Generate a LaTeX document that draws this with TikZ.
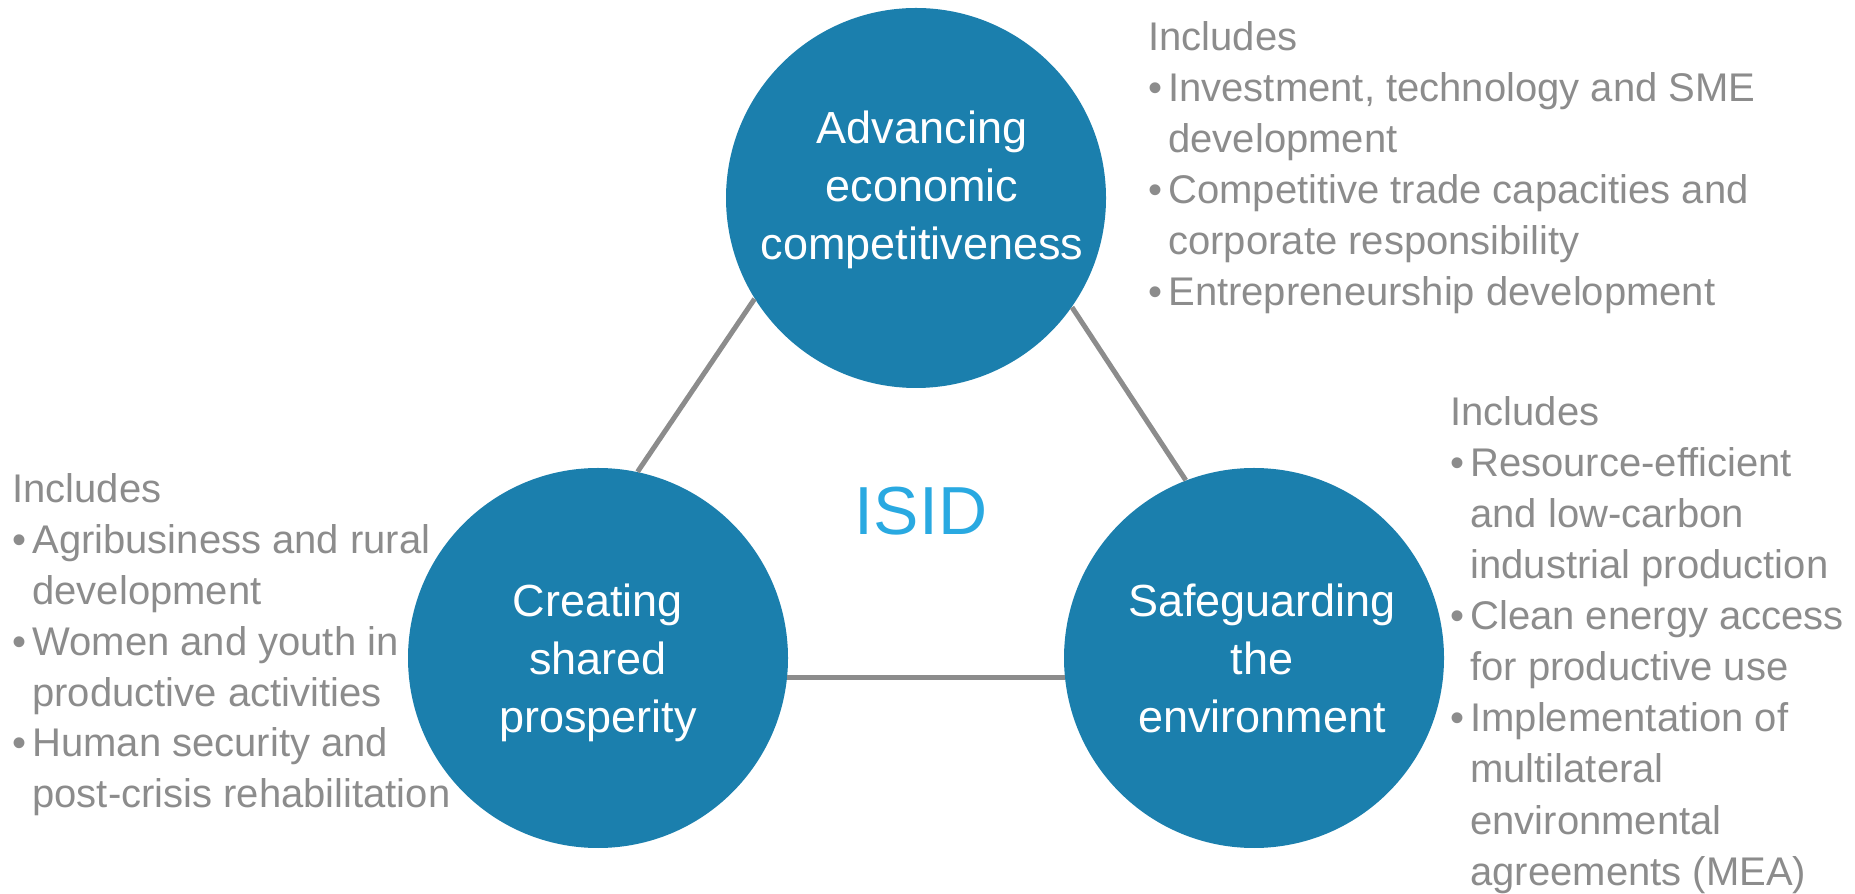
\documentclass[tikz,border=0pt]{standalone}
\usepackage{fontspec}
\setmainfont{Liberation Sans}
\usepackage{xcolor}
\usepackage{tikz}
\usetikzlibrary{positioning}
\definecolor{pillarblue}{HTML}{1B7FAD}
\definecolor{sky}{HTML}{29A9E1}
\definecolor{grey}{HTML}{8C8C8C}
\newcommand{\itemlead}[1]{\ifcase#1\relax\or\makebox[10pt][l]{\textbullet}\or\hspace*{10pt}\fi}

\begin{document}
\begin{tikzpicture}[x=0.5pt, y=0.5pt,
    pillar/.style={circle, fill=pillarblue, minimum size=190pt, inner sep=0pt},
    pillartext/.style={text=white, align=center, inner sep=0pt,
      font=\fontsize{22.5}{29}\selectfont},
    link/.style={draw=grey, line width=2.5pt},
    inctext/.style={anchor=base west, inner sep=0pt, text=grey,
      font=\fontsize{20}{25}\selectfont}]
  \useasboundingbox (0,0) rectangle (1855,893);
  % the three pillars
  \node[pillar] (adv) at (916,695) {};
  \node[pillar] (shared) at (598,235) {};
  \node[pillar] (env) at (1254,235) {};
  \node[pillartext] (advtext) at ([xshift=3pt, yshift=4pt]adv.center)
    {Advancing\\economic\\competitiveness};
  \node[pillartext] (sharedtext) at ([yshift=-2.5pt]shared.center)
    {Creating\\shared\\prosperity};
  \node[pillartext] (envtext) at ([xshift=4pt]env.center)
    {Safeguarding\\the\\environment};
  \node[text=sky, inner sep=0pt, font=\fontsize{34}{40}\selectfont]
    (isid) at (921,382) {ISID};
  \draw[link] (adv.212) -- (shared.78);
  \draw[link] (adv.325) -- (env.111);
  \draw[link] (shared.-6.6) -- (env.186.6);
  % what each pillar includes
  \foreach[count=\i from 0] \kind/\entry in {%
    0/Includes,
    1/{Investment, technology and SME},
    2/development,
    1/Competitive trade capacities and,
    2/corporate responsibility,
    1/Entrepreneurship development} {
    \pgfmathsetmacro\yp{842 - \i*51}
    \node[inctext] (advinc\i) at (1148, \yp) {\itemlead{\kind}\entry};
  }
  \foreach[count=\i from 0] \kind/\entry in {%
    0/Includes,
    1/Agribusiness and rural,
    2/development,
    1/Women and youth in,
    2/productive activities,
    1/Human security and,
    2/post-crisis rehabilitation} {
    \pgfmathsetmacro\yp{390 - \i*50.8}
    \node[inctext] (sharedinc\i) at (12, \yp) {\itemlead{\kind}\entry};
  }
  \foreach[count=\i from 0] \kind/\entry in {%
    0/Includes,
    1/Resource-efficient,
    2/and low-carbon,
    2/industrial production,
    1/Clean energy access,
    2/for productive use,
    1/Implementation of,
    2/multilateral,
    2/environmental,
    2/agreements (MEA)} {
    \pgfmathsetmacro\yp{467 - \i*51}
    \node[inctext] (envinc\i) at (1450, \yp) {\itemlead{\kind}\entry};
  }
\end{tikzpicture}
\end{document}
